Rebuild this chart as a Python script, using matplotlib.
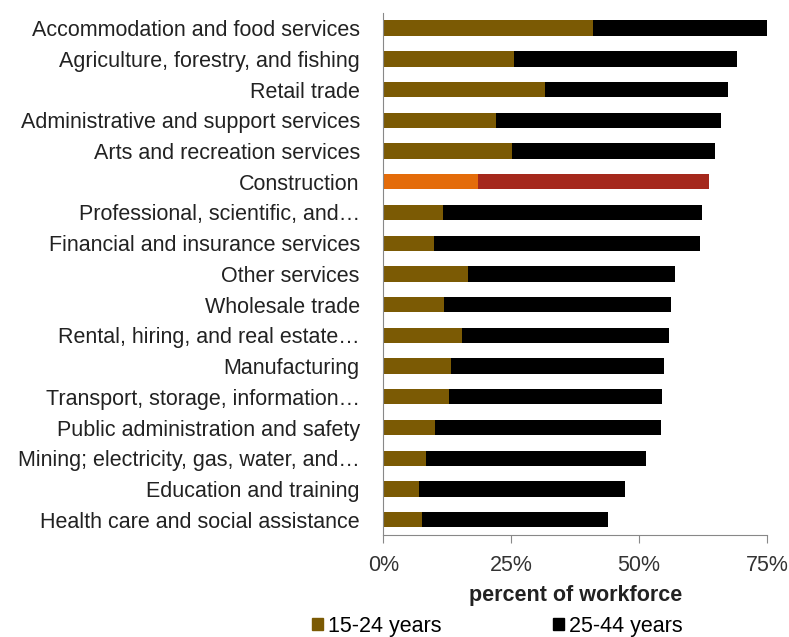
import matplotlib
matplotlib.use("Agg")
import matplotlib.pyplot as plt
from matplotlib.patches import Patch

plt.rcParams['font.family'] = ['Liberation Sans', 'DejaVu Sans']

industries = [
    "Accommodation and food services",
    "Agriculture, forestry, and fishing",
    "Retail trade",
    "Administrative and support services",
    "Arts and recreation services",
    "Construction",
    "Professional, scientific, and\u2026",
    "Financial and insurance services",
    "Other services",
    "Wholesale trade",
    "Rental, hiring, and real estate\u2026",
    "Manufacturing",
    "Transport, storage, information\u2026",
    "Public administration and safety",
    "Mining; electricity, gas, water, and\u2026",
    "Education and training",
    "Health care and social assistance",
]
# share of workforce aged 15-24 and 25-44 (percent)
young = [41.0, 25.5, 31.5, 22.1, 25.1, 18.5, 11.6, 9.9, 16.6, 11.9,
         15.4, 13.3, 12.8, 10.1, 8.4, 7.0, 7.5]
prime = [34.3, 43.7, 35.9, 44.0, 39.8, 45.2, 50.7, 52.1, 40.4, 44.3,
         40.5, 41.5, 41.7, 44.1, 42.9, 40.2, 36.4]
highlight = "Construction"
xticks = [0, 25, 50, 75]

brown, black = "#7b5a04", "#000000"
hl_young, hl_prime = "#e46c0a", "#a5281c"
fs = 15.5

fig = plt.figure(figsize=(7.89, 6.37), dpi=100)
ax = fig.add_axes([0.486, 0.16, 0.486, 0.82])

pos = list(range(len(industries)))
c1 = [hl_young if n == highlight else brown for n in industries]
c2 = [hl_prime if n == highlight else black for n in industries]
ax.barh(pos, young, height=0.5, color=c1)
ax.barh(pos, prime, left=young, height=0.5, color=c2)

ax.set_ylim(len(industries) - 0.5, -0.5)
ax.set_xlim(0, 75)
ax.set_yticks(pos)
ax.set_yticklabels(industries, fontsize=fs, color="#222222")
ax.set_xticks(xticks)
ax.set_xticklabels([f"{t}%" for t in xticks], fontsize=fs, color="#333333")
ax.tick_params(axis="y", length=0, pad=17)
ax.tick_params(axis="x", length=6, color="#888888", pad=8)

for s in ["top", "right"]:
    ax.spines[s].set_visible(False)
for s in ["left", "bottom"]:
    ax.spines[s].set_color("#888888")

ax.set_xlabel("percent of workforce", fontsize=fs, fontweight="bold",
              color="#222222", labelpad=7)

handles = [Patch(color=brown, label="15-24 years"),
           Patch(color=black, label="25-44 years")]
fig.legend(handles=handles, loc="lower center", bbox_to_anchor=(0.63, -0.03),
           ncol=2, frameon=False, fontsize=fs, handlelength=0.5,
           handleheight=0.5, handletextpad=0.23, columnspacing=5.2)

fig.savefig("out.png", dpi=100)
